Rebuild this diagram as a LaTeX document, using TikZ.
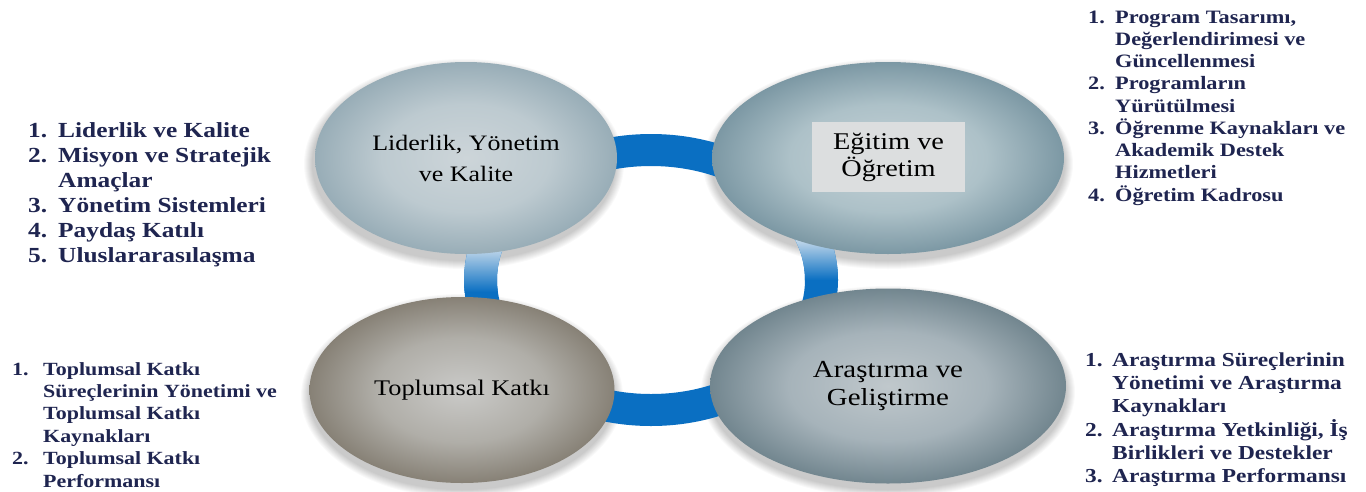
\documentclass[tikz,border=0pt]{standalone}
\usepackage{fontspec}
\setmainfont{Liberation Serif}
\newfontfamily\lst[FakeStretch=1.18]{Liberation Serif}
\usetikzlibrary{shapes.geometric}
\definecolor{ringblue}{HTML}{0A6FC2}
\definecolor{bandlight}{HTML}{D4E2EE}
\definecolor{navy}{HTML}{1F2550}
\definecolor{boxgray}{HTML}{DCDEDF}
\definecolor{tlc}{HTML}{CDD5D9}\definecolor{tlm}{HTML}{BDCAD0}\definecolor{tle}{HTML}{98ADB7}
\definecolor{trc}{HTML}{C5D2D7}\definecolor{trm}{HTML}{ADC1C8}\definecolor{tre}{HTML}{7C98A4}
\definecolor{blc}{HTML}{CACAC8}\definecolor{blm}{HTML}{B0AEA8}\definecolor{ble}{HTML}{878176}
\definecolor{brc}{HTML}{C0C8CC}\definecolor{brm}{HTML}{A6B3BA}\definecolor{bre}{HTML}{72868F}
\pgfdeclareradialshading{ellTL}{\pgfpoint{0bp}{0bp}}{color(0bp)=(tlc); color(14bp)=(tlm); color(25bp)=(tle); color(50bp)=(tle)}
\pgfdeclareradialshading{ellTR}{\pgfpoint{0bp}{0bp}}{color(0bp)=(trc); color(14bp)=(trm); color(25bp)=(tre); color(50bp)=(tre)}
\pgfdeclareradialshading{ellBL}{\pgfpoint{0bp}{0bp}}{color(0bp)=(blc); color(14bp)=(blm); color(25bp)=(ble); color(50bp)=(ble)}
\pgfdeclareradialshading{ellBR}{\pgfpoint{0bp}{0bp}}{color(0bp)=(brc); color(14bp)=(brm); color(25bp)=(bre); color(50bp)=(bre)}
\newcommand\softshadow[4]{%
  \foreach \k in {1,...,9}{\fill[black,opacity=0.022] (#1,#2+6) ellipse [x radius={#3+10-\k}, y radius={#4+10-\k}];}}
\begin{document}
\begin{tikzpicture}[x=1pt,y=-1pt,
  listtxt/.style={inner sep=0pt, anchor=north west, text=navy, align=left},
  bubble/.style={ellipse, shade, inner sep=0pt, align=center, text=black}]
\fill[white] (0,0) rectangle (1366,491);
\useasboundingbox (0,0) rectangle (1366,491);
% soft shadows
\softshadow{464}{158}{151}{96}
\softshadow{888}{158}{176}{96}
\softshadow{462}{390}{152}{93}
\softshadow{888}{386}{178}{97}
% ring
\coordinate (ringc) at (651,280);
\begin{scope}[even odd rule]
  \clip (ringc) ellipse [x radius=187, y radius=146] (ringc) ellipse [x radius=154, y radius=114];
  \fill[ringblue] (440,120) rectangle (870,440);
  \shade[top color=bandlight, bottom color=ringblue] (450,244) rectangle (512,292);
  \shade[top color=bandlight, bottom color=ringblue] (795,236) rectangle (850,280);
\end{scope}
% bubbles
\node[bubble, shading=ellTL, minimum width=302, minimum height=192, font=\lst\fontsize{22}{31}\selectfont] (lead) at (466,158) {Liderlik, Yönetim\\ve Kalite};
\node[bubble, shading=ellTR, minimum width=352, minimum height=192] (edu) at (888,158) {};
\node[fill=boxgray, minimum width=153, minimum height=70, inner sep=0pt, align=center, font=\lst\fontsize{24}{27}\selectfont] (edubox) at (888.5,157) {Eğitim ve\\Öğretim};
\node[bubble, shading=ellBL, minimum width=305, minimum height=186, font=\lst\fontsize{22.3}{28}\selectfont] (soc) at (462,390) {Toplumsal Katkı};
\node[bubble, shading=ellBR, minimum width=356, minimum height=195, font=\lst\fontsize{24.5}{28}\selectfont] (res) at (888,386) {Araştırma ve\\Geliştirme};
% lists
\node[listtxt, font=\lst\bfseries\fontsize{21.5}{25}\selectfont] (listTL) at (28,119.5) {%
\begin{tabular}{@{}l@{}l@{}}
\makebox[30pt][l]{1.} & Liderlik ve Kalite\\
2. & Misyon ve Stratejik\\
 & Amaçlar\\
3. & Yönetim Sistemleri\\
4. & Paydaş Katılı\\
5. & Uluslararasılaşma
\end{tabular}};
\node[listtxt, font=\lst\bfseries\fontsize{18.9}{22.2}\selectfont] (listTR) at (1088,7.5) {%
\begin{tabular}{@{}l@{}l@{}}
\makebox[27pt][l]{1.} & Program Tasarımı,\\
 & Değerlendirimesi ve\\
 & Güncellenmesi\\
2. & Programların\\
 & Yürütülmesi\\
3. & Öğrenme Kaynakları ve\\
 & Akademik Destek\\
 & Hizmetleri\\
4. & Öğretim Kadrosu
\end{tabular}};
\node[listtxt, font=\lst\bfseries\fontsize{18.6}{22.4}\selectfont] (listBL) at (12,359.3) {%
\begin{tabular}{@{}l@{}l@{}}
\makebox[31pt][l]{1.} & Toplumsal Katkı\\
 & Süreçlerinin Yönetimi ve\\
 & Toplumsal Katkı\\
 & Kaynakları\\
2. & Toplumsal Katkı\\
 & Performansı
\end{tabular}};
\node[listtxt, font=\lst\bfseries\fontsize{19.8}{23.2}\selectfont] (listBR) at (1085,349.8) {%
\begin{tabular}{@{}l@{}l@{}}
\makebox[27pt][l]{1.} & Araştırma Süreçlerinin\\
 & Yönetimi ve Araştırma\\
 & Kaynakları\\
2. & Araştırma Yetkinliği, İş\\
 & Birlikleri ve Destekler\\
3. & Araştırma Performansı
\end{tabular}};
\end{tikzpicture}
\end{document}
